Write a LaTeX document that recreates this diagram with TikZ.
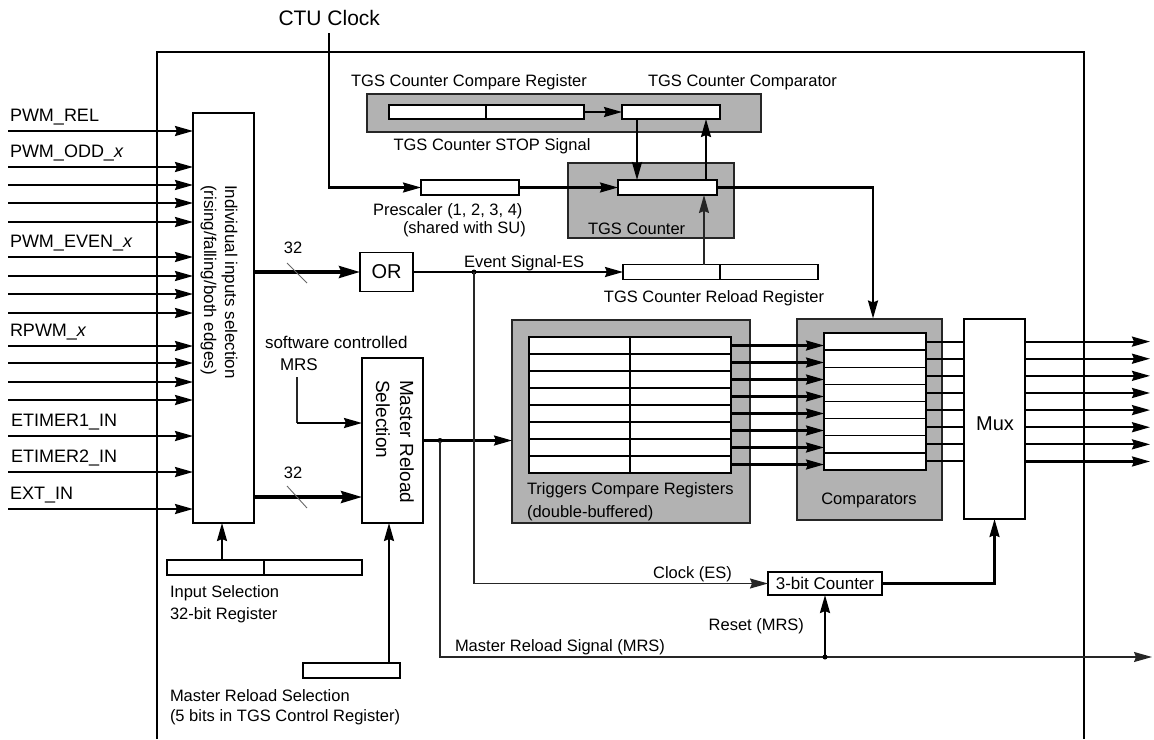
\documentclass[tikz,border=0pt]{standalone}
\usepackage{fontspec}
\setmainfont{Liberation Sans}
\usetikzlibrary{arrows.meta}
\begin{document}
\begin{tikzpicture}[x=1pt,y=-1pt,
  font=\fontsize{16.5}{19}\selectfont,
  every node/.style={inner sep=0pt, outer sep=0pt},
  wbox/.style={draw=black, line width=1.8pt, fill=white},
  gbox/.style={draw=black!85, line width=1.4pt, fill=black!30},
  sig/.style={line width=2.2pt},
  thinl/.style={line width=1.4pt, draw=black!85},
  cell/.style={line width=1.4pt},
  bus/.style={line width=3.4pt},
  arr/.style={-{Stealth[length=18pt,width=10pt,inset=2pt]}},
  busarr/.style={-{Stealth[length=21pt,width=12pt,inset=2.5pt]}},
  lbl/.style={anchor=base west},
  lblc/.style={anchor=base},
  lble/.style={anchor=base east},
  inlbl/.style={anchor=base west, font=\fontsize{18}{20}\selectfont},
  jdot/.style={circle, fill=black, minimum size=5pt, inner sep=0pt},
  slash/.style={line width=0.9pt, draw=black!60},
]
\useasboundingbox (0,0) rectangle (1154,739);

% outer frame
\draw[line width=1.5pt] (157,739) -- (157,52) -- (1084,52) -- (1084,739);

% ---------- top part ----------
\node[lble, font=\fontsize{21}{24}\selectfont] (ctu) at (380,25) {CTU Clock};
\coordinate (clk) at (329,33);

\node[gbox, minimum width=394pt, minimum height=38pt] (cmpg) at (564,113) {};
\node[wbox, minimum width=195pt, minimum height=14pt] (cmpreg) at (486.5,112) {};
\draw[cell] (486,105) -- (486,119);
\node[wbox, minimum width=98pt, minimum height=14pt] (tgscmp) at (671,112) {};
\node[lblc] (lcmpreg) at (469,86) {TGS Counter Compare Register};
\node[lbl] (ltgscmp) at (648,86) {TGS Counter Comparator};
\node[lblc] (lstop) at (492,150) {TGS Counter STOP Signal};

\node[wbox, minimum width=98pt, minimum height=15pt] (presc) at (470,187.5) {};
\node[lbl] (lpresc1) at (373,215) {Prescaler (1, 2, 3, 4)};
\node[lbl] (lpresc2) at (403,233) {(shared with SU)};

\node[gbox, minimum width=166pt, minimum height=75pt] (cntg) at (651,200.5) {};
\node[wbox, minimum width=99pt, minimum height=15pt] (tgscnt) at (667.5,187.5) {};
\node[lbl] (lcnt) at (588,234) {TGS Counter};

\node[wbox, minimum width=195pt, minimum height=15pt] (reload) at (720.5,272) {};
\draw[cell] (720,264.5) -- (720,279.5);
\node[lblc] (lreload) at (714,302) {TGS Counter Reload Register};

\draw[sig,arr] (cmpreg.east) -- (tgscmp.west);
\draw[sig,arr] (clk) |- (presc.west);
\draw[sig,arr] (presc.east) -- (tgscnt.west);
\draw[sig,arr] (tgscmp.south -| 637,0) -- (tgscnt.north -| 637,0);
\draw[sig,arr] (tgscnt.north -| 706,0) -- (tgscmp.south -| 706,0);
\draw[thinl,arr] (reload.north -| 704,0) -- (tgscnt.south -| 704,0);
\draw[sig,arr] (tgscnt.east) -| (873,318.5);

% ---------- inputs ----------
\node[wbox, minimum width=61pt, minimum height=410pt] (indiv) at (223.5,318) {};
\node[rotate=-90, anchor=west, align=left, font=\fontsize{17}{21}\selectfont] (lindiv) at (219,185)
  {Individual inputs selection\\(rising/falling/both edges)};

\foreach \y [count=\i] in {131,167,185,203,222,257,276,294,313,346,363,382,400,436,472,509} {
  \coordinate (in\i) at (8,\y);
  \draw[sig,arr] (in\i) -- (indiv.west |- in\i);
}
\node[inlbl] (lrel) at (10,121.5) {PWM\_REL};
\node[inlbl] (lodd) at (10,157.5) {PWM\_ODD\_\textit{x}};
\node[inlbl] (leven) at (10,247.5) {PWM\_EVEN\_\textit{x}};
\node[inlbl] (lrpwm) at (10,336.5) {RPWM\_\textit{x}};
\node[inlbl] (let1) at (11,426.5) {ETIMER1\_IN};
\node[inlbl] (let2) at (11,462.5) {ETIMER2\_IN};
\node[inlbl] (lext) at (10,499.5) {EXT\_IN};

% OR and bus
\node[wbox, minimum width=53pt, minimum height=39pt, font=\fontsize{20}{22}\selectfont] (or) at (386.5,272) {OR};
\draw[bus,busarr] (indiv.east |- or.west) -- (or.west);
\draw[slash] (287,263) -- (307,283);
\node[lblc] (l32a) at (293,253) {32};
\draw[sig,arr] (or.east) -- (reload.west);
\node[lbl] (les) at (464,267) {Event Signal-ES};
\node[jdot] (esj) at (474,272) {};

% Master reload selection
\node[wbox, minimum width=61pt, minimum height=165pt] (mrsel) at (392.5,440.5) {};
\node[rotate=-90, anchor=west, align=left, font=\fontsize{19}{24}\selectfont] (lmrsel) at (395,380)
  {Master Reload\\Selection};
\node[lbl, font=\fontsize{17}{20}\selectfont] (lsw1) at (265,348) {software controlled};
\node[lbl, font=\fontsize{17}{20}\selectfont] (lsw2) at (280,370) {MRS};
\coordinate (swtop) at (297,377);
\coordinate (swc) at (297,423);
\draw[thinl] (swtop) -- (swc);
\draw[sig,arr] (swc) -- (mrsel.west |- swc);
\coordinate (bus2) at (254,497);
\draw[bus,busarr] (bus2) -- (mrsel.west |- bus2);
\draw[slash] (287,486) -- (307,508);
\node[lblc] (l32b) at (293,478) {32};

% registers below
\node[wbox, minimum width=195pt, minimum height=15pt] (insel) at (264.5,567.5) {};
\draw[cell] (264,560) -- (264,575);
\draw[sig,arr] (insel.north -| 222,0) -- (indiv.south -| 222,0);
\node[lbl] (linsel1) at (170,597) {Input Selection};
\node[lbl] (linsel2) at (170,619) {32-bit Register};

\node[wbox, minimum width=97pt, minimum height=15pt] (mrreg) at (351.5,670.5) {};
\draw[sig,arr] (mrreg.north -| 389,0) -- (mrsel.south -| 389,0);
\node[lbl] (lmrreg1) at (170,701) {Master Reload Selection};
\node[lbl] (lmrreg2) at (170,721) {(5 bits in TGS Control Register)};

% ---------- triggers / comparators / mux ----------
\node[gbox, minimum width=238pt, minimum height=203pt] (trigg) at (631,421.5) {};
\node[wbox, minimum width=202pt, minimum height=136pt] (trig) at (630,405) {};
\foreach \i in {1,...,7} \draw[cell] (529,337+17*\i) -- (731,337+17*\i);
\draw[cell] (630,337) -- (630,473);
\node[lbl] (ltrig1) at (527,494) {Triggers Compare Registers};
\node[lbl] (ltrig2) at (527,517) {(double-buffered)};

\node[gbox, minimum width=145pt, minimum height=201pt] (compg) at (869.5,419.5) {};
\node[wbox, minimum width=102pt, minimum height=137pt] (comp) at (875,401.5) {};
\foreach \i in {1,...,7} \draw[cell] (824,333+17.125*\i) -- (926,333+17.125*\i);
\node[lblc] (lcomp) at (869,504) {Comparators};

\node[wbox, minimum width=61pt, minimum height=200pt] (mux) at (994.5,419) {};
\node[font=\fontsize{20}{22}\selectfont] (lmux) at (995,424) {Mux};

\foreach \i in {0,...,7} {
  \draw[sig,arr] (trig.east |- 0,345.5+17*\i) -- (comp.west |- 0,345.5+17*\i);
  \draw[line width=2pt] (comp.east |- 0,341.6+17.125*\i) -- (mux.west |- 0,341.6+17.125*\i);
  \coordinate (out\i) at (1150,341.6+17.125*\i);
  \draw[sig,arr] (mux.east |- out\i) -- (out\i);
}

% master reload output and MRS
\node[jdot] (mj) at (440,440.5) {};
\draw[sig,arr] (mrsel.east) -- (trigg.west |- mrsel.east);
\coordinate (mrsend) at (1152,657);
\draw[thinl,arr] (mj.center) |- (mrsend);
\node[lbl] (lmrs) at (455,651) {Master Reload Signal (MRS)};

% 3-bit counter
\node[wbox, minimum width=114pt, minimum height=23pt, font=\fontsize{17}{20}\selectfont] (cnt3) at (825,583.5) {3-bit Counter};
\draw[thinl,arr] (esj.center) |- (cnt3.west);
\node[lble] (lclk) at (732,578) {Clock (ES)};
\node[jdot] (rj) at (cnt3.south |- mrsend) {};
\draw[sig,arr] (rj.center) -- (cnt3.south);
\node[lble] (lreset) at (804,630) {Reset (MRS)};
\draw[sig,arr] (cnt3.east) -| (mux.south);
\end{tikzpicture}
\end{document}
